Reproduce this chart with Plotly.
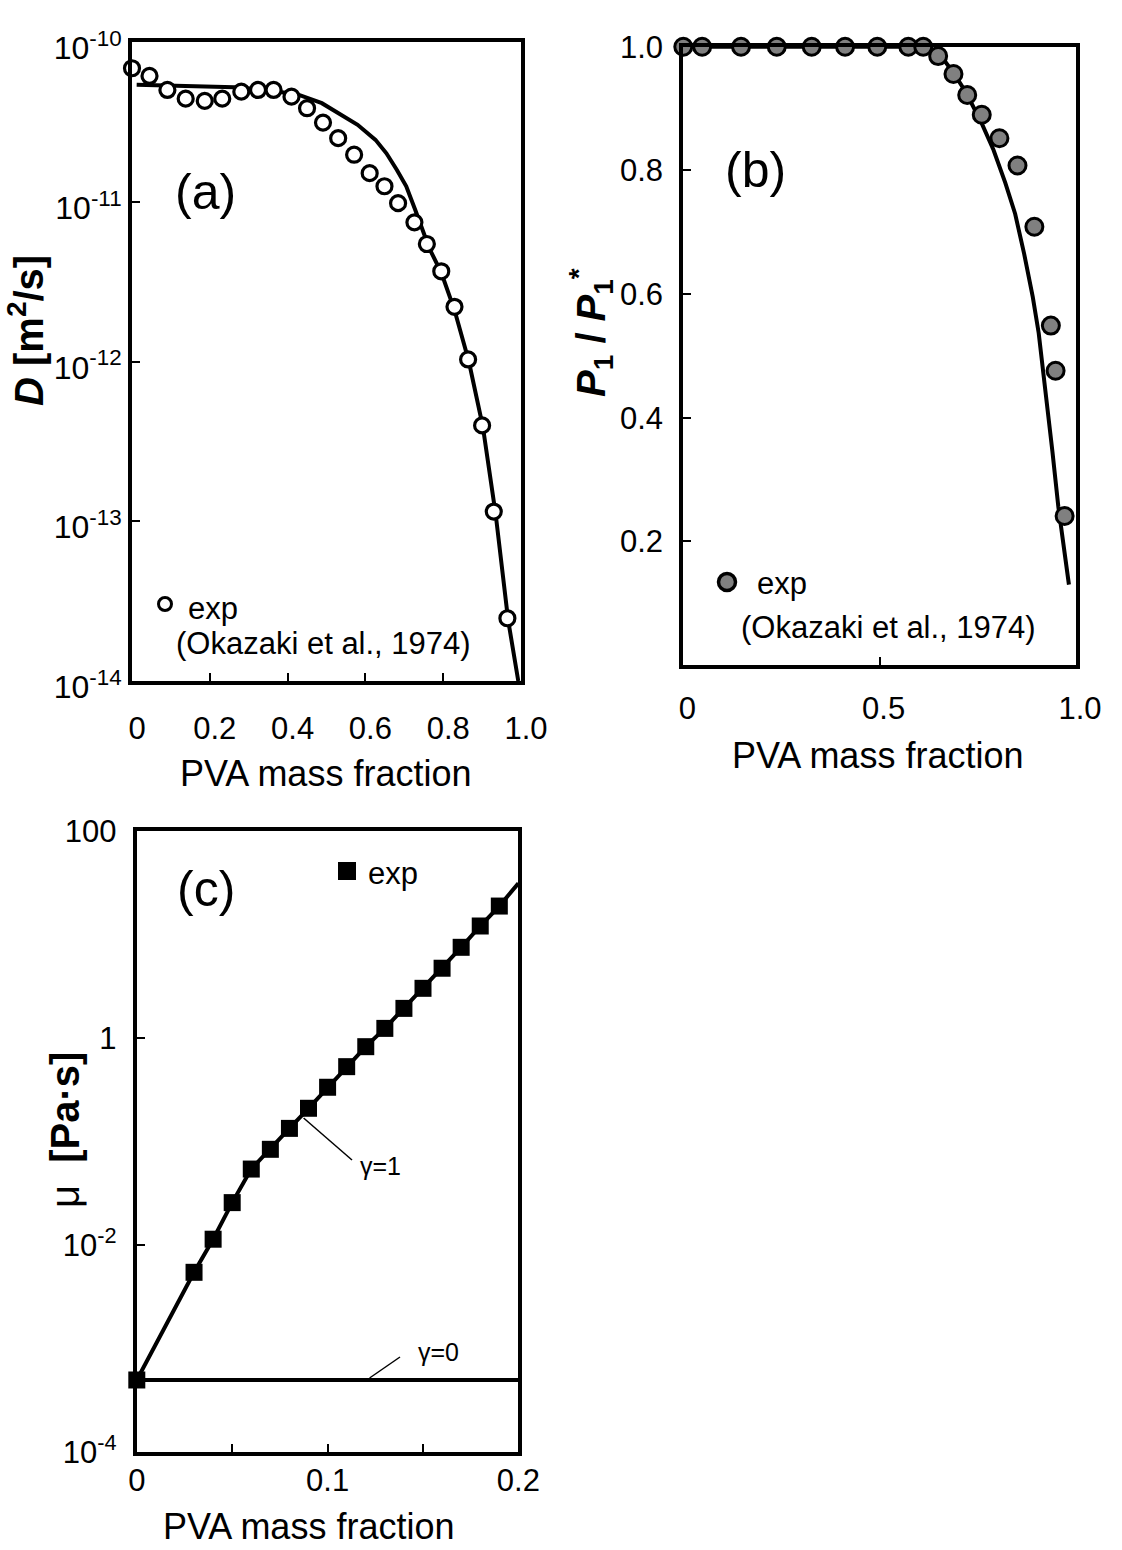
import plotly.graph_objects as go

W, H = 1122, 1550
FONT = "Liberation Sans, Arial, sans-serif"

# ---------------- data ----------------
# (a) diffusion coefficient
a_exp_x = [0.0, 0.045, 0.091, 0.138, 0.187, 0.232, 0.281, 0.324, 0.364, 0.410, 0.450, 0.491,
           0.530, 0.571, 0.611, 0.649, 0.684, 0.726, 0.758, 0.795, 0.829, 0.864, 0.900, 0.930, 0.965]
a_exp_D = [6.85e-11, 6.13e-11, 5.01e-11, 4.42e-11, 4.28e-11, 4.42e-11, 4.89e-11, 5.01e-11, 5.01e-11,
           4.55e-11, 3.85e-11, 3.13e-11, 2.50e-11, 1.97e-11, 1.51e-11, 1.25e-11, 9.8e-12, 7.43e-12,
           5.44e-12, 3.67e-12, 2.20e-12, 1.03e-12, 3.98e-13, 1.15e-13, 2.47e-14]
a_calc_x = [0.012, 0.15, 0.263, 0.33, 0.38, 0.424, 0.488, 0.534, 0.580, 0.626, 0.654, 0.681, 0.705,
            0.728, 0.746, 0.764, 0.795, 0.829, 0.866, 0.902, 0.935, 0.967, 0.993]
a_calc_D = [5.4e-11, 5.3e-11, 5.2e-11, 5.05e-11, 4.9e-11, 4.71e-11, 4.14e-11, 3.55e-11, 3.03e-11,
            2.44e-11, 2.01e-11, 1.58e-11, 1.25e-11, 8.9e-12, 6.68e-12, 5.13e-12, 3.6e-12, 2.1e-12,
            1.0e-12, 3.9e-13, 1.1e-13, 2.4e-14, 1.0e-14]
a_xticks = [0, 0.2, 0.4, 0.6, 0.8, 1.0]
a_xticktext = ["0", "0.2", "0.4", "0.6", "0.8", "1.0"]
a_yticks = [1e-14, 1e-13, 1e-12, 1e-11, 1e-10]
a_yticktext = ["10<sup>-14</sup>", "10<sup>-13</sup>", "10<sup>-12</sup>", "10<sup>-11</sup>", "10<sup>-10</sup>"]

# (b) relative vapour pressure
b_exp_x = [0.0, 0.048, 0.147, 0.238, 0.327, 0.412, 0.494, 0.573, 0.611, 0.649, 0.688, 0.723,
           0.760, 0.805, 0.851, 0.894, 0.936, 0.948, 0.971]
b_exp_p = [1.0, 1.0, 1.0, 1.0, 1.0, 1.0, 1.0, 1.0, 1.0, 0.985, 0.956, 0.922, 0.890, 0.852,
           0.808, 0.709, 0.549, 0.476, 0.241]
b_calc_x = [0.0, 0.60, 0.63, 0.66, 0.69, 0.72, 0.76, 0.79, 0.82, 0.845, 0.868, 0.89, 0.905,
            0.923, 0.94, 0.955, 0.982]
b_calc_p = [1.0, 1.0, 0.997, 0.982, 0.956, 0.926, 0.876, 0.833, 0.780, 0.730, 0.665, 0.595,
            0.537, 0.445, 0.345, 0.256, 0.13]
b_xticks = [0, 0.5, 1.0]
b_xticktext = ["0", "0.5", "1.0"]
b_yticks = [0.2, 0.4, 0.6, 0.8, 1.0]
b_yticktext = ["0.2", "0.4", "0.6", "0.8", "1.0"]

# (c) viscosity
c_exp_x = [0.0, 0.03, 0.04, 0.05, 0.06, 0.07, 0.08, 0.09, 0.10, 0.11, 0.12, 0.13, 0.14, 0.15,
           0.16, 0.17, 0.18, 0.19]
c_exp_mu = [4.93e-4, 5.41e-3, 1.13e-2, 2.55e-2, 5.38e-2, 8.35e-2, 0.133, 0.208, 0.332, 0.525,
            0.819, 1.23, 1.92, 3.0, 4.69, 7.47, 12.0, 18.7]
c_g1_x = [0.0, 0.03, 0.04, 0.05, 0.06, 0.07, 0.08, 0.09, 0.10, 0.11, 0.12, 0.13, 0.14, 0.15,
          0.16, 0.17, 0.18, 0.19, 0.20]
c_g1_mu = [4.93e-4, 5.41e-3, 1.13e-2, 2.55e-2, 5.38e-2, 8.35e-2, 0.133, 0.208, 0.332, 0.525,
           0.819, 1.23, 1.92, 3.0, 4.69, 7.47, 12.0, 18.7, 31.0]
c_g0_x = [0.0, 0.20]
c_g0_mu = [4.93e-4, 4.93e-4]
c_xticks = [0, 0.05, 0.1, 0.15, 0.2]
c_xticktext = ["0", "", "0.1", "", "0.2"]
c_yticks = [1e-4, 1e-2, 1, 100]
c_yticktext = ["10<sup>-4</sup>", "10<sup>-2</sup>", "1", "100"]


def X(px):
    return px / W


def Y(py):
    return 1 - py / H


fig = go.Figure()

# (a)
fig.add_trace(go.Scatter(x=a_calc_x, y=a_calc_D, mode="lines", line=dict(color="black", width=4),
                         xaxis="x", yaxis="y", showlegend=False))
fig.add_trace(go.Scatter(x=a_exp_x, y=a_exp_D, mode="markers", cliponaxis=False,
                         marker=dict(symbol="circle", size=15, color="white",
                                     line=dict(color="black", width=3.2)),
                         xaxis="x", yaxis="y", showlegend=False))
# (b)
fig.add_trace(go.Scatter(x=b_calc_x, y=b_calc_p, mode="lines", line=dict(color="black", width=4),
                         xaxis="x2", yaxis="y2", showlegend=False, cliponaxis=False))
fig.add_trace(go.Scatter(x=b_exp_x, y=b_exp_p, mode="markers", cliponaxis=False,
                         marker=dict(symbol="circle", size=17, color="#808080",
                                     line=dict(color="black", width=3)),
                         xaxis="x2", yaxis="y2", showlegend=False))
# (c)
fig.add_trace(go.Scatter(x=c_g0_x, y=c_g0_mu, mode="lines", line=dict(color="black", width=4),
                         xaxis="x3", yaxis="y3", showlegend=False))
fig.add_trace(go.Scatter(x=c_g1_x, y=c_g1_mu, mode="lines", line=dict(color="black", width=4),
                         xaxis="x3", yaxis="y3", showlegend=False))
fig.add_trace(go.Scatter(x=c_exp_x, y=c_exp_mu, mode="markers", cliponaxis=False,
                         marker=dict(symbol="square", size=17, color="black"),
                         xaxis="x3", yaxis="y3", showlegend=False))

axis_common = dict(showline=True, linecolor="black", linewidth=4, mirror=True,
                   ticks="inside", ticklen=8, tickwidth=1.5, tickcolor="black",
                   showgrid=False, zeroline=False, automargin=False)


def tf(size):
    return dict(family=FONT, size=size, color="black")


fig.update_layout(
    template="none",
    width=W, height=H,
    margin=dict(l=0, r=0, t=0, b=0, pad=0),
    paper_bgcolor="white", plot_bgcolor="white",
    font=dict(family=FONT, color="black"),
    xaxis=dict(domain=[X(132), X(521)], range=[0, 1], anchor="y",
               tickmode="array", tickvals=a_xticks, ticktext=a_xticktext,
               ticklabelstandoff=17, ticklabelshift=5, tickfont=tf(31), **axis_common),
    yaxis=dict(domain=[Y(681), Y(42)], type="log", range=[-14, -10], anchor="x",
               tickmode="array", tickvals=a_yticks, ticktext=a_yticktext,
               ticklabelstandoff=0, ticklabelshift=6, tickfont=tf(32), **axis_common),
    xaxis2=dict(domain=[X(683.3), X(1076)], range=[0, 1], anchor="y2",
                tickmode="array", tickvals=b_xticks, ticktext=b_xticktext,
                ticklabelstandoff=13, ticklabelshift=4, tickfont=tf(31), **axis_common),
    yaxis2=dict(domain=[Y(665), Y(46.8)], range=[0, 1], anchor="x2",
                tickmode="array", tickvals=b_yticks, ticktext=b_yticktext,
                ticklabelstandoff=10, tickfont=tf(31), **axis_common),
    xaxis3=dict(domain=[X(136.8), X(518.4)], range=[0, 0.2], anchor="y3",
                tickmode="array", tickvals=c_xticks, ticktext=c_xticktext,
                ticklabelstandoff=-2, tickfont=tf(31), **axis_common),
    yaxis3=dict(domain=[Y(1451.7), Y(830.7)], type="log", range=[-4, 2], anchor="x3",
                tickmode="array", tickvals=c_yticks, ticktext=c_yticktext,
                ticklabelstandoff=10, tickfont=tf(31), **axis_common),
)


def ann(text, px, py, size, xanchor="center", yanchor="middle", angle=0):
    fig.add_annotation(text=text, x=X(px), y=Y(py), xref="paper", yref="paper",
                       xanchor=xanchor, yanchor=yanchor, showarrow=False, textangle=angle,
                       borderpad=0, font=dict(family=FONT, size=size, color="black"))


# panel labels
ann("(a)", 205, 192, 50)
ann("(b)", 755, 170, 50)
ann("(c)", 206, 889, 50)

# axis titles
ann("PVA mass fraction", 325, 773, 36)
ann("PVA mass fraction", 877, 755, 36)
ann("PVA mass fraction", 308, 1526, 36)
ann("<b><i>D</i> [m<sup>2</sup>/s]</b>", 26, 331, 40, angle=-90)
ann("<b><i>P</i><sub>1</sub> / <i>P</i><sub>1</sub><sup>*</sup></b>", 591, 333, 40, angle=-90)
ann("\u03bc\u00a0\u00a0<b>[Pa\u00b7s]</b>", 65, 1130, 40, angle=-90)

# legends
ann("exp", 187, 627, 31, xanchor="left", yanchor="bottom")
ann("(Okazaki et al., 1974)", 175, 625, 31, xanchor="left", yanchor="top")
ann("exp", 756, 583, 31, xanchor="left")
ann("(Okazaki et al., 1974)", 740, 627, 31, xanchor="left")
ann("exp", 367, 873, 31, xanchor="left")

# curve labels
ann("\u03b3=1", 380, 1166, 25)
ann("\u03b3=0", 438, 1352, 25)

shapes = [
    dict(type="circle", xref="paper", yref="paper", x0=X(158.5), x1=X(171.5), y0=Y(610.5), y1=Y(597.5),
         line=dict(color="black", width=3), fillcolor="white"),
    dict(type="circle", xref="paper", yref="paper", x0=X(718.5), x1=X(735.5), y0=Y(590.5), y1=Y(573.5),
         line=dict(color="black", width=3.5), fillcolor="#808080"),
    dict(type="rect", xref="paper", yref="paper", x0=X(338), x1=X(356), y0=Y(880), y1=Y(862),
         line=dict(color="black", width=0), fillcolor="black"),
    dict(type="line", xref="paper", yref="paper", x0=X(303.6), y0=Y(1118), x1=X(352), y1=Y(1160),
         line=dict(color="black", width=1.5)),
    dict(type="line", xref="paper", yref="paper", x0=X(369.6), y0=Y(1378), x1=X(400), y1=Y(1357),
         line=dict(color="black", width=1.5)),
]
fig.update_layout(shapes=shapes)

fig.write_html("out.html")
